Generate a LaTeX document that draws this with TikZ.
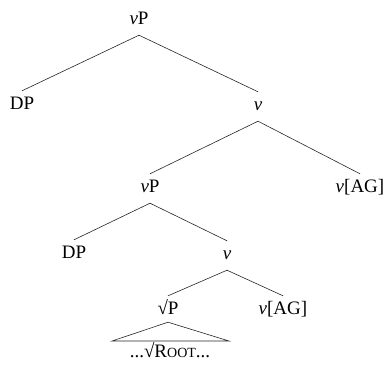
\documentclass[tikz,border=0pt]{standalone}
\usepackage{fontspec}
\setmainfont{Liberation Serif}
\newcommand{\treeedge}[2]{\draw[edge] ([yshift=-11pt]#1.south) -- ([yshift=6pt]#2.north);}
\begin{document}
\begin{tikzpicture}[x=1pt,y=1pt,
  lab/.style={inner sep=0pt, text height=12pt, text depth=0pt, font=\fontsize{19}{22}\selectfont},
  edge/.style={line width=0.6pt, black!85}]
\useasboundingbox (0,0) rectangle (388,-367);
\node[lab] (vp1) at (139,-18) {\textit{v}P};
\node[lab] (dp1) at (22,-103) {DP};
\node[lab] (v1) at (258,-104) {\textit{v}};
\node[lab] (vp2) at (150,-186) {\textit{v}P};
\node[lab] (ag1) at (360,-186) {\textit{v}[AG]};
\node[lab] (dp2) at (74,-252) {DP};
\node[lab] (v2) at (227,-253) {\textit{v}};
\node[lab] (rp) at (168,-308) {√P};
\node[lab] (ag2) at (283,-308) {\textit{v}[AG]};
\node[lab] (root) at (170,-351) {...√R{\fontsize{14}{14}\selectfont OOT}...};
\treeedge{vp1}{dp1}
\treeedge{vp1}{v1}
\treeedge{v1}{vp2}
\treeedge{v1}{ag1}
\treeedge{vp2}{dp2}
\treeedge{vp2}{v2}
\treeedge{v2}{rp}
\treeedge{v2}{ag2}
\coordinate (tl) at (112,-341);
\coordinate (tr) at (229,-341);
\draw[edge] (tl) -- ([yshift=-8pt]rp.south) -- (tr) -- cycle;
\end{tikzpicture}
\end{document}
